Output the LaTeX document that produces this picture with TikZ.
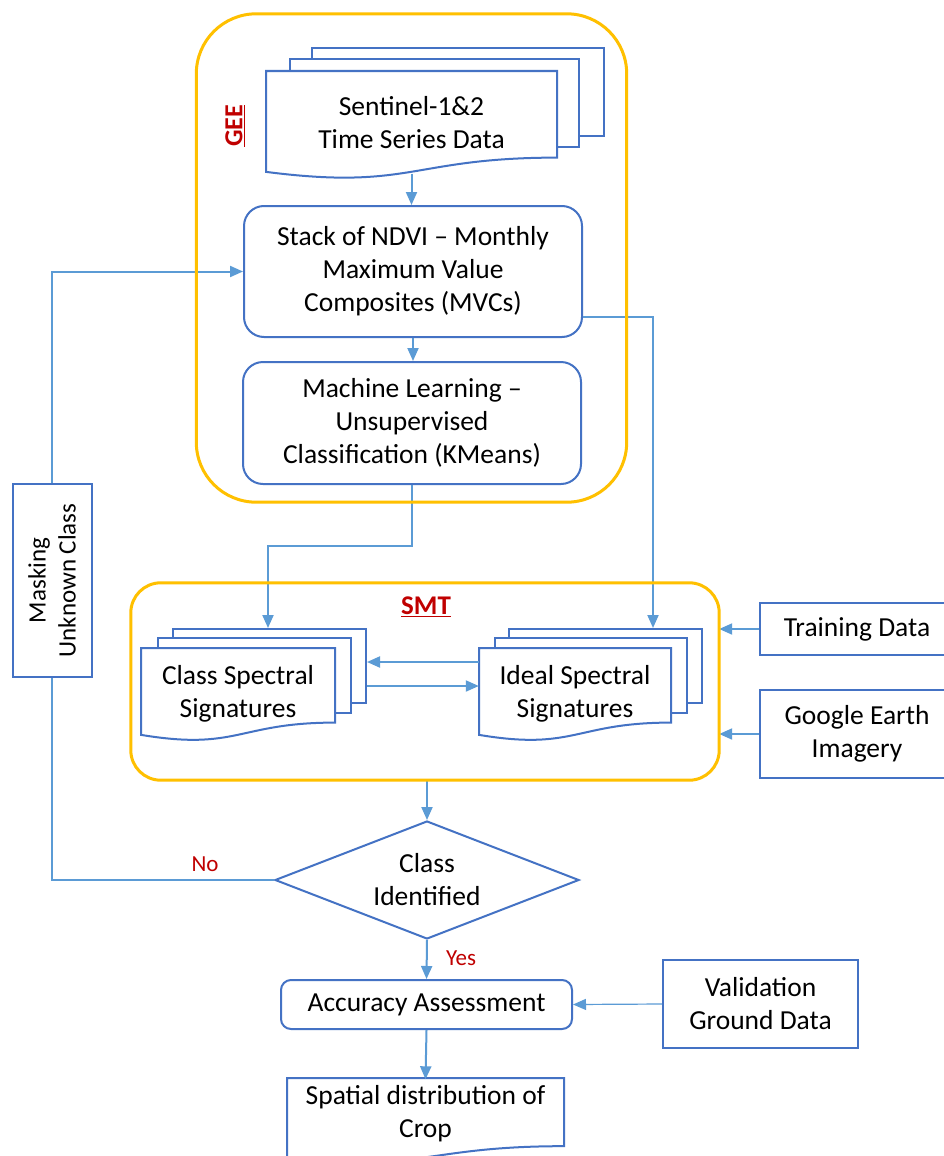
\documentclass[tikz,border=0pt]{standalone}
\usepackage{fontspec}
\setmainfont{Carlito}
\usetikzlibrary{arrows.meta,shapes.geometric}
\definecolor{boxblue}{HTML}{4472C4}
\definecolor{linkblue}{HTML}{5B9BD5}
\definecolor{gold}{HTML}{FFC000}
\definecolor{darkred}{HTML}{C00000}
\tikzset{
  txt/.style={font=\fontsize{27.5}{33}\selectfont, align=center, inner sep=0pt},
  box/.style={txt, draw=boxblue, line width=2pt, fill=white},
  rbox/.style={box, rounded corners=#1},
  sheet/.style={draw=boxblue, line width=2pt, fill=white, inner sep=0pt},
  groupline/.style={draw=gold, line width=3pt, rounded corners=#1},
  conn/.style={draw=linkblue, line width=2pt},
  arr/.style={conn, -{Triangle[length=13pt,width=11pt]}},
  lbl/.style={text=darkred, font=\fontsize{23}{27}\selectfont, inner sep=0pt},
  hdr/.style={text=darkred, inner sep=0pt},
}
\newcommand{\docshape}[4]{%
  \draw[sheet] (#1,#2) -- (#3,#2) -- (#3,{#2+0.802*#4})
    .. controls ({(#1+#3)/2},{#2+0.802*#4}) and ({(#1+#3)/2},{#2+1.1075*#4}) ..
    (#1,{#2+0.934*#4}) -- cycle;}
\begin{document}
\begin{tikzpicture}[x=1pt,y=-1pt]
\useasboundingbox (0,0) rectangle (944,1156);
\clip (0,0) rectangle (944,1156);
\fill[white] (0,0) rectangle (944,1156);

% group frames (anchors only, drawn later)
\path node[minimum width=430, minimum height=488, inner sep=0pt] (gee) at (411.5,258) {};
\path node[minimum width=588, minimum height=197, inner sep=0pt] (smt) at (425,681.5) {};

% Sentinel stack
\node[sheet, minimum width=292, minimum height=88] (sB) at (458,92) {};
\node[sheet, minimum width=289, minimum height=88] (sM) at (434.5,103) {};
\docshape{266}{71}{557}{108}
\node[txt, minimum width=291, minimum height=101] (sent) at (411.5,123) {Sentinel-1\&2\\Time Series Data};

\node[rbox=20pt, minimum width=338, minimum height=131] (ndvi) at (413,271.5) {Stack of NDVI -- Monthly\\Maximum Value\\Composites (MVCs)};
\node[rbox=20pt, minimum width=338, minimum height=122] (ml) at (412,423) {Machine Learning --\\Unsupervised\\Classification (KMeans)};

% Class spectral stack
\node[sheet, minimum width=193, minimum height=74] (clsB) at (269.5,666) {};
\node[sheet, minimum width=193, minimum height=75] (clsM) at (254.5,675.5) {};
\docshape{141}{648}{335}{93}
\node[txt, minimum width=194] (clsF) at (238,694) {Class Spectral\\Signatures};

% Ideal spectral stack
\node[sheet, minimum width=193, minimum height=74] (idB) at (605.5,666) {};
\node[sheet, minimum width=192, minimum height=75] (idM) at (591,675.5) {};
\docshape{479}{648}{671}{93}
\node[txt, minimum width=192] (idF) at (575,694) {Ideal Spectral\\Signatures};

\node[box, minimum width=194, minimum height=52] (train) at (857,629) {Training Data};
\node[box, minimum width=194, minimum height=88] (ge) at (857,734) {Google Earth\\Imagery};

\node[txt, diamond, draw=boxblue, line width=2pt, fill=white, aspect=2.58,
      minimum width=304, minimum height=118] (dia) at (427,880) {Class\\Identified};

\node[box, minimum width=79, minimum height=193] (mask) at (52,580.5) {};
\node[txt, rotate=90, font=\fontsize{25}{30}\selectfont] (maskT) at (mask.center) {Masking\\Unknown Class};

\node[rbox=10pt, minimum width=291, minimum height=49] (acc) at (426.5,1004.5) {Accuracy Assessment};
\node[box, minimum width=195, minimum height=88] (valid) at (760.5,1004) {Validation\\Ground Data};

\docshape{287}{1078}{564}{85}
\node[txt, minimum width=277, minimum height=69] (spat) at (425.5,1114) {Spatial distribution of\\Crop};

% labels
\node[lbl] (no) at (205,864) {No};
\node[lbl] (yes) at (461,958) {Yes};
\node[hdr, rotate=90, font=\bfseries\fontsize{26}{30}\selectfont] (geeT) at (235,126) {\underline{GEE}};
\node[hdr, font=\bfseries\fontsize{27}{32}\selectfont] (smtT) at (426,607) {\underline{SMT}};

% connectors
\coordinate (c1) at (268,546);
\coordinate (c2) at (653,317);
\draw[arr] (sent.south) -- (sent.south |- ndvi.north);
\draw[arr] (ndvi.south) -- (ndvi.south |- ml.north);
\draw[arr] (ml.south) |- (c1) -- (c1 |- clsB.north);
\draw[arr] ([yshift=-45.5pt]ndvi.east) -| (c2 |- idB.north);
\draw[arr] (idF.west |- 0,662) -- (clsB.east |- 0,662);
\draw[arr] (clsB.east |- 0,686) -- (idF.west |- 0,686);
\draw[arr] (train.west) -- (smt.east |- train.west);
\draw[arr] (ge.west) -- (smt.east |- ge.west);
\draw[arr] (dia.north |- smt.south) -- (dia.north);
\draw[conn] (dia.west) -| (mask.south);
\draw[arr] (mask.north) |- (ndvi.west);
\draw[arr] (dia.south) -- (acc.north);
\draw[arr, line width=1.2pt] (valid.west) -- (acc.east);
\draw[arr] (acc.south) -- (spat.north);

% group frames
\draw[groupline=60pt] (gee.south west) rectangle (gee.north east);
\draw[groupline=30pt] (smt.south west) rectangle (smt.north east);
\end{tikzpicture}
\end{document}
